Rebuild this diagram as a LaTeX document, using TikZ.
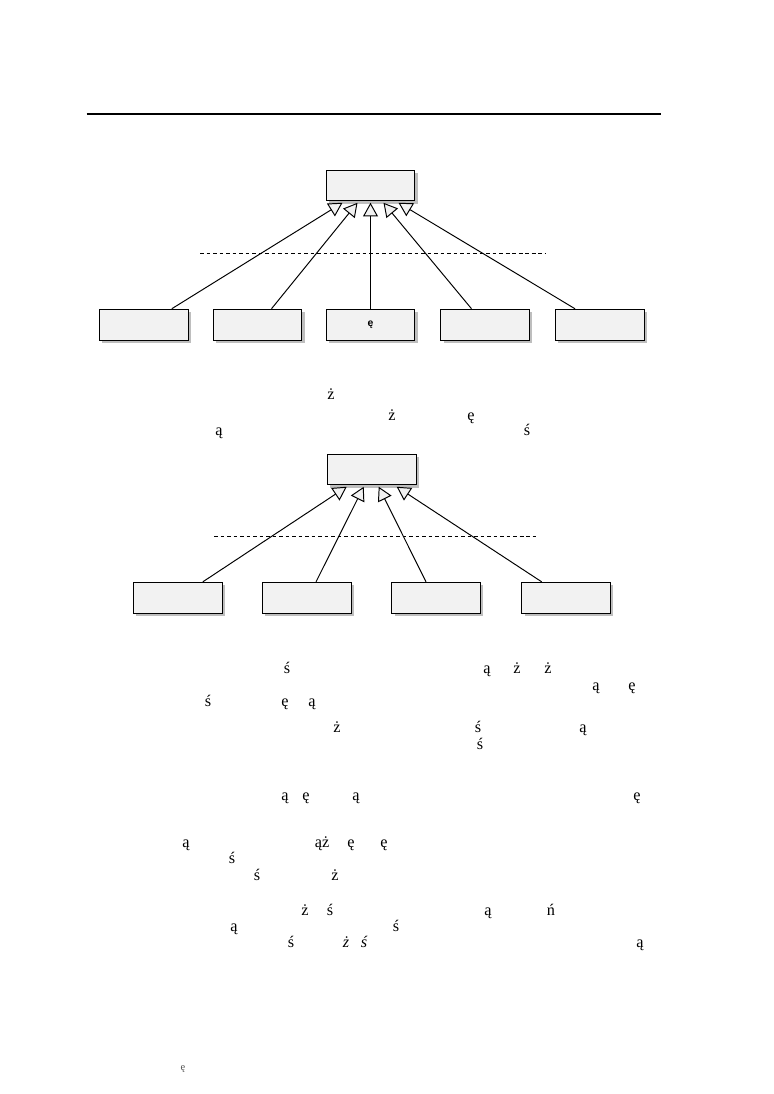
\documentclass[tikz,border=0pt]{standalone}
\usepackage{fontspec}
\setmainfont{Liberation Serif}
\newfontfamily\boxfont{Liberation Sans}
\usetikzlibrary{arrows.meta,shadows}
\definecolor{boxfill}{RGB}{242,242,242}
\definecolor{shadowgray}{RGB}{190,190,190}
\tikzset{
  umlbox/.style={draw=black, line width=0.75pt, fill=boxfill, minimum width=68.4pt, minimum height=23.8pt, inner sep=0pt,
    drop shadow={shadow xshift=2.3pt, shadow yshift=-2.3pt, fill=shadowgray, opacity=1}},
  gen/.style={line width=0.75pt, -{Triangle[fill=boxfill, length=10.5pt, width=11.5pt, line width=0.75pt]}},
  sep/.style={dashed, dash pattern=on 3pt off 2pt, line width=0.75pt},
  txt/.style={anchor=base, inner sep=0pt, font=\fontsize{12.5}{14}\selectfont},
  txti/.style={txt, font=\fontsize{12.5}{14}\selectfont\itshape},
  small/.style={anchor=base, inner sep=0pt, font=\fontsize{8}{10}\selectfont, text=black!70},
}
\begin{document}
\begin{tikzpicture}[x=0.769pt, y=-0.769pt]
\useasboundingbox (0,0) rectangle (774,1094);
% top rule
\coordinate (ruleL) at (86.7,113.7);
\coordinate (ruleR) at (660.7,113.7);
\draw[line width=1.5pt] (ruleL) -- (ruleR);

% ---------- diagram 1 ----------
\node[umlbox] (top1) at (370.5,185.5) {};
\node[umlbox] (a1) at (143.8,324.7) {};
\node[umlbox] (a2) at (257.5,324.7) {};
\node[umlbox, font=\boxfont\bfseries\fontsize{8}{10}\selectfont] (a3) at (370.5,324.7) {ę};
\node[umlbox] (a4) at (485,324.7) {};
\node[umlbox] (a5) at (599.8,324.7) {};
\coordinate (d1L) at (200,253.3);
\coordinate (d1R) at (545,253.3);
\draw[sep] (d1L) -- (d1R);
\draw[gen] ([xshift=28*0.769pt]a1.north) -- ([xshift=-28*0.769pt,yshift=-1pt]top1.south);
\draw[gen] ([xshift=14*0.769pt]a2.north) -- ([xshift=-13*0.769pt,yshift=-1pt]top1.south);
\draw[gen] (a3.north) -- ([yshift=-1pt]top1.south);
\draw[gen] ([xshift=-13.5*0.769pt]a4.north) -- ([xshift=13*0.769pt,yshift=-1pt]top1.south);
\draw[gen] ([xshift=-24.8*0.769pt]a5.north) -- ([xshift=28*0.769pt,yshift=-1pt]top1.south);

% ---------- text block A ----------
\node[txt] (tA1) at (331,399) {ż};
\node[txt] (tA2) at (392,420) {ż};
\node[txt] (tA3) at (471,420) {ę};
\node[txt] (tA4) at (219,435) {ą};
\node[txt] (tA5) at (527,435) {ś};

% ---------- diagram 2 ----------
\node[umlbox] (top2) at (371.7,469.5) {};
\node[umlbox] (b1) at (177.8,597.8) {};
\node[umlbox] (b2) at (306.8,597.8) {};
\node[umlbox] (b3) at (436,597.8) {};
\node[umlbox] (b4) at (566,597.8) {};
\coordinate (d2L) at (214,536.3);
\coordinate (d2R) at (536,536.3);
\draw[sep] (d2L) -- (d2R);
\draw[gen] ([xshift=25*0.769pt]b1.north) -- ([xshift=-25*0.769pt,yshift=-1pt]top2.south);
\draw[gen] ([xshift=9.2*0.769pt]b2.north) -- ([xshift=-8*0.769pt,yshift=-1pt]top2.south);
\draw[gen] ([xshift=-10*0.769pt]b3.north) -- ([xshift=7*0.769pt,yshift=-1pt]top2.south);
\draw[gen] ([xshift=-24.3*0.769pt]b4.north) -- ([xshift=25*0.769pt,yshift=-1pt]top2.south);

% ---------- text block B ----------
\node[txt] (tB1) at (287,673) {ś};
\node[txt] (tB2) at (487,673) {ą};
\node[txt] (tB3) at (517,673) {ż};
\node[txt] (tB4) at (548,673) {ż};
\node[txt] (tB5) at (596,690) {ą};
\node[txt] (tB6) at (632,690) {ę};
\node[txt] (tB7) at (208,706) {ś};
\node[txt] (tB8) at (285,706) {ę};
\node[txt] (tB9) at (312,706) {ą};
\node[txt] (tB10) at (337,732) {ż};
\node[txt] (tB11) at (478,732) {ś};
\node[txt] (tB12) at (583,732) {ą};
\node[txt] (tB13) at (480,749) {ś};

% ---------- text block C ----------
\node[txt] (tC1) at (285,800) {ą};
\node[txt] (tC2) at (306,800) {ę};
\node[txt] (tC3) at (356,800) {ą};
\node[txt] (tC4) at (637,800) {ę};
\node[txt] (tC5) at (186,847) {ą};
\node[txt] (tC6) at (322,847) {ąż};
\node[txt] (tC7) at (351,847) {ę};
\node[txt] (tC8) at (384,847) {ę};
\node[txt] (tC9) at (232,863) {ś};
\node[txt] (tC10) at (257,880) {ś};
\node[txt] (tC11) at (335,880) {ż};
\node[txt] (tC12) at (305,915) {ż};
\node[txt] (tC13) at (330,915) {ś};
\node[txt] (tC14) at (488,915) {ą};
\node[txt] (tC15) at (551,915) {ń};
\node[txt] (tC16) at (234,931) {ą};
\node[txt] (tC17) at (396,931) {ś};
\node[txt] (tC18) at (291,947) {ś};
\node[txti] (tC19) at (346,947) {ż};
\node[txti] (tC20) at (364,947) {ś};
\node[txt] (tC21) at (640,947) {ą};

% ---------- footnote ----------
\node[small] (tD1) at (183,1070) {ę};
\end{tikzpicture}
\end{document}
